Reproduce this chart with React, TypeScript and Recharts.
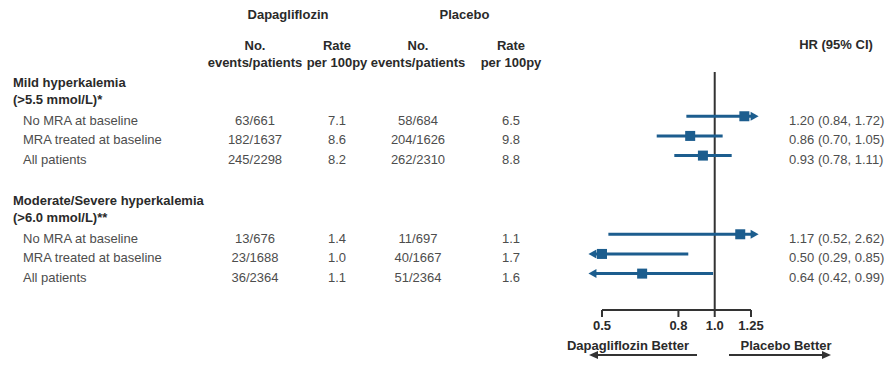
import React from 'react';
import { ScatterChart, Scatter, XAxis, YAxis, ReferenceLine } from 'recharts';

// ---------- data ----------
const groupTitles = ['Mild hyperkalemia', 'Moderate/Severe hyperkalemia'];
const groupSubtitles = ['(>5.5 mmol/L)*', '(>6.0 mmol/L)**'];
const subgroups = ['No MRA at baseline', 'MRA treated at baseline', 'All patients'];
const dapaEvents = ['63/661', '182/1637', '245/2298', '13/676', '23/1688', '36/2364'];
const dapaRate = [7.1, 8.6, 8.2, 1.4, 1.0, 1.1];
const placeboEvents = ['58/684', '204/1626', '262/2310', '11/697', '40/1667', '51/2364'];
const placeboRate = [6.5, 9.8, 8.8, 1.1, 1.7, 1.6];
const hr = [1.2, 0.86, 0.93, 1.17, 0.5, 0.64];
const hrLow = [0.84, 0.7, 0.78, 0.52, 0.29, 0.42];
const hrHigh = [1.72, 1.05, 1.11, 2.62, 0.85, 0.99];
const xTicks = [0.5, 0.8, 1.0, 1.25];
const xDomain = [0.5, 1.25];
const displayLimits = [0.46, 1.31]; // CI lines beyond these end in arrows

// ---------- layout ----------
const W = 895;
const H = 367;
const FONT = "'Liberation Sans', Arial, Helvetica, sans-serif";
const BLUE = '#1c5d8e';
const DARK = '#2a2a2a';
const GRAY = '#4d4d4d';
const COL = { label: 23, dEv: 255, dRate: 337, pEv: 418, pRate: 511, hr: 789 };

const slotOf = (i: number) => Math.floor(i / 3) * 6 + (i % 3) + 1;

const rows = hr.map((v, i) => ({
  x: v,
  y: slotOf(i),
  i,
}));

const headers = groupTitles.map((t, g) => ({ x: 1, y: g * 6 - 0.7, g }));

const RowShape = (props: any) => {
  const { cx, cy, payload } = props;
  const i = payload.i;
  const ty = cy + 4;
  const common = { fontFamily: FONT, fontSize: 13, fill: GRAY, dominantBaseline: 'central' as const };
  return (
    <g>
      <rect x={cx - 5} y={cy - 5} width={10} height={10} fill={BLUE} />
      <text x={COL.label} y={ty} {...common}>{subgroups[i % 3]}</text>
      <text x={COL.dEv} y={ty} textAnchor="middle" {...common}>{dapaEvents[i]}</text>
      <text x={COL.dRate} y={ty} textAnchor="middle" {...common}>{dapaRate[i].toFixed(1)}</text>
      <text x={COL.pEv} y={ty} textAnchor="middle" {...common}>{placeboEvents[i]}</text>
      <text x={COL.pRate} y={ty} textAnchor="middle" {...common}>{placeboRate[i].toFixed(1)}</text>
      <text x={COL.hr} y={ty} {...common}>
        {`${hr[i].toFixed(2)} (${hrLow[i].toFixed(2)}, ${hrHigh[i].toFixed(2)})`}
      </text>
    </g>
  );
};

const HeaderShape = (props: any) => {
  const { cy, payload } = props;
  const g = payload.g;
  const common = { fontFamily: FONT, fontSize: 13, fontWeight: 700, fill: DARK, dominantBaseline: 'central' as const };
  return (
    <g>
      <text x={13} y={cy} {...common}>{groupTitles[g]}</text>
      <text x={13} y={cy + 17} {...common}>{groupSubtitles[g]}</text>
    </g>
  );
};

const makeCiShape = (arrowLeft: boolean, arrowRight: boolean) => (props: any) => {
  const { x1, y1, x2, y2 } = props;
  const left = Math.min(x1, x2);
  const right = Math.max(x1, x2);
  const y = (y1 + y2) / 2;
  const ah = 8;
  const lx = arrowLeft ? left + ah - 1 : left;
  const rx = arrowRight ? right - ah + 1 : right;
  return (
    <g>
      <line x1={lx} y1={y} x2={rx} y2={y} stroke={BLUE} strokeWidth={3} />
      {arrowRight && (
        <polygon points={`${right},${y} ${right - ah},${y - 4.5} ${right - ah},${y + 4.5}`} fill={BLUE} />
      )}
      {arrowLeft && (
        <polygon points={`${left},${y} ${left + ah},${y - 4.5} ${left + ah},${y + 4.5}`} fill={BLUE} />
      )}
    </g>
  );
};

const Overlay = () => {
  const bold = { fontFamily: FONT, fontSize: 13, fontWeight: 700, fill: DARK, textAnchor: 'middle' as const, dominantBaseline: 'central' as const };
  return (
    <svg width={W} height={H} style={{ position: 'absolute', left: 0, top: 0, pointerEvents: 'none' }}>
      <text x={(COL.dEv + COL.dRate) / 2 - 8} y={14} {...bold}>Dapagliflozin</text>
      <text x={(COL.pEv + COL.pRate) / 2} y={14} {...bold}>Placebo</text>
      <text x={COL.dEv} y={45} {...bold}>No.</text>
      <text x={COL.dEv} y={62} {...bold}>events/patients</text>
      <text x={COL.dRate} y={45} {...bold}>Rate</text>
      <text x={COL.dRate} y={62} {...bold}>per 100py</text>
      <text x={COL.pEv} y={45} {...bold}>No.</text>
      <text x={COL.pEv} y={62} {...bold}>events/patients</text>
      <text x={COL.pRate} y={45} {...bold}>Rate</text>
      <text x={COL.pRate} y={62} {...bold}>per 100py</text>
      <text x={836} y={44} {...bold}>HR (95% CI)</text>
      <text x={628} y={345} {...bold}>Dapagliflozin Better</text>
      <text x={786} y={345} {...bold}>Placebo Better</text>
      <line x1={697} y1={355} x2={596} y2={355} stroke="#333" strokeWidth={2} />
      <polygon points="589,355 598,351 598,359" fill="#333" />
      <line x1={729} y1={355} x2={824} y2={355} stroke="#333" strokeWidth={2} />
      <polygon points="831,355 822,351 822,359" fill="#333" />
    </svg>
  );
};

export default function App() {
  return (
    <div style={{ position: 'absolute', left: 0, top: 0, width: W, height: H, background: '#fff' }}>
      <ScatterChart width={W} height={H} margin={{ top: 72, right: W - 751, bottom: 27, left: 602 }}>
        <XAxis
          dataKey="x"
          type="number"
          scale="log"
          domain={xDomain}
          ticks={xTicks}
          tickFormatter={(v: number) => (v === 1 ? '1.0' : String(v))}
          tick={{ fontSize: 13, fontWeight: 700, fill: DARK, fontFamily: FONT }}
          tickSize={7}
          tickMargin={4}
          height={30}
          axisLine={{ stroke: '#333', strokeWidth: 2 }}
          tickLine={{ stroke: '#333', strokeWidth: 2 }}
          interval={0}
        />
        <YAxis dataKey="y" type="number" domain={[-1.25, 10.85]} reversed hide />
        <ReferenceLine x={1} stroke="#333" strokeWidth={2} ifOverflow="visible" />
        {rows.map((r) => {
          const lo = Math.max(hrLow[r.i], displayLimits[0]);
          const hi = Math.min(hrHigh[r.i], displayLimits[1]);
          return (
            <ReferenceLine
              key={`ci-${r.i}`}
              segment={[{ x: lo, y: r.y }, { x: hi, y: r.y }]}
              ifOverflow="visible"
              stroke={BLUE}
              shape={makeCiShape(hrLow[r.i] < displayLimits[0], hrHigh[r.i] > displayLimits[1])}
            />
          );
        })}
        <Scatter data={headers} shape={HeaderShape} isAnimationActive={false} />
        <Scatter data={rows} shape={RowShape} isAnimationActive={false} />
      </ScatterChart>
      <Overlay />
    </div>
  );
}
